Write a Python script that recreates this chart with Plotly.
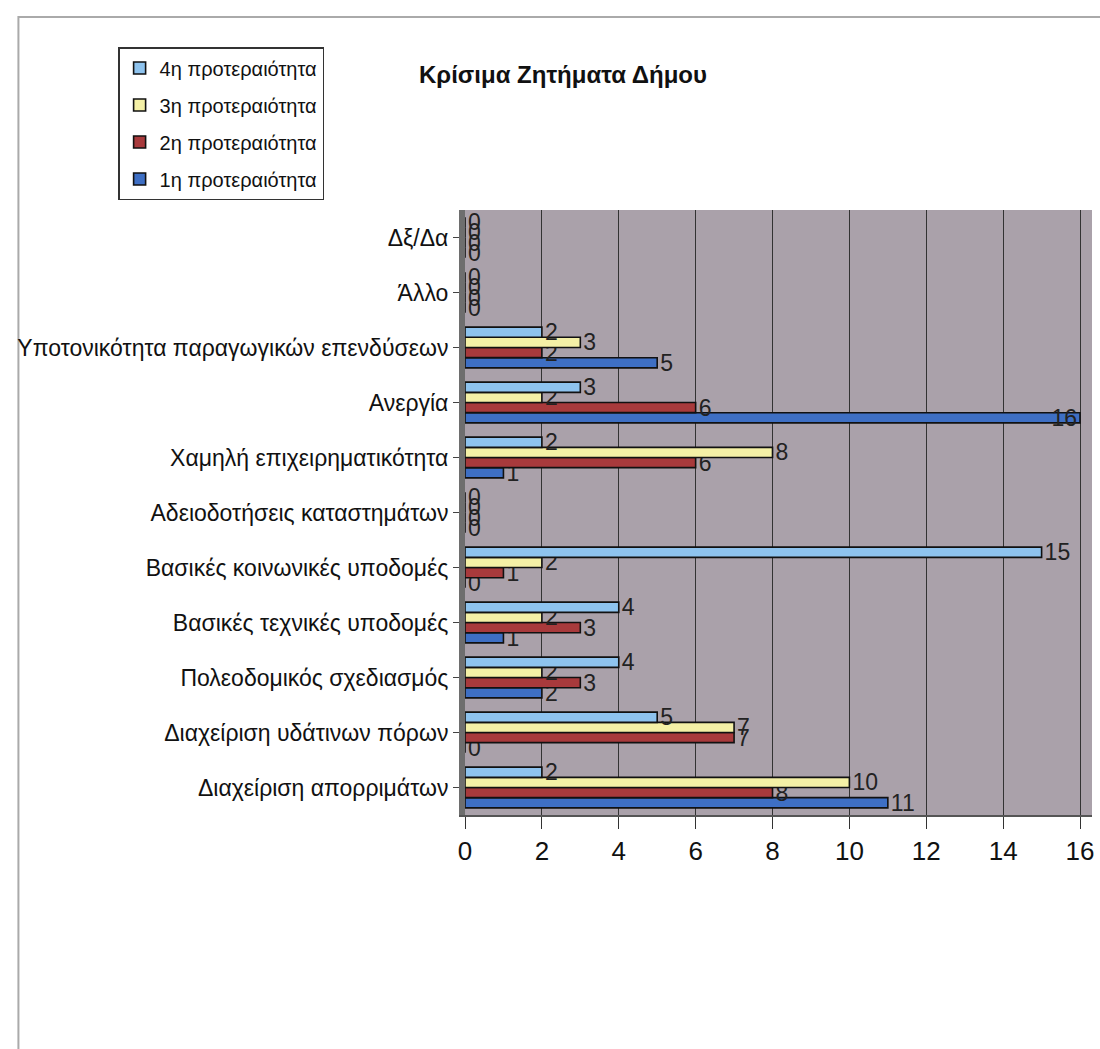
import plotly.graph_objects as go

categories = [
    "Διαχείριση απορριμάτων",
    "Διαχείριση υδάτινων πόρων",
    "Πολεοδομικός σχεδιασμός",
    "Βασικές τεχνικές υποδομές",
    "Βασικές κοινωνικές υποδομές",
    "Αδειοδοτήσεις καταστημάτων",
    "Χαμηλή επιχειρηματικότητα",
    "Ανεργία",
    "Υποτονικότητα παραγωγικών επενδύσεων",
    "Άλλο",
    "Δξ/Δα",
]
p1 = [11, 0, 2, 1, 0, 0, 1, 16, 5, 0, 0]
p2 = [8, 7, 3, 3, 1, 0, 6, 6, 2, 0, 0]
p3 = [10, 7, 2, 2, 2, 0, 8, 2, 3, 0, 0]
p4 = [2, 5, 4, 4, 15, 0, 2, 3, 2, 0, 0]
x_ticks = [0, 2, 4, 6, 8, 10, 12, 14, 16]
x_max = 16

series = [
    ("1η προτεραιότητα", p1, "#3E6FC4", 4),
    ("2η προτεραιότητα", p2, "#A83A3C", 3),
    ("3η προτεραιότητα", p3, "#F4F0A6", 2),
    ("4η προτεραιότητα", p4, "#8EC3EE", 1),
]

W, H = 1100, 1049
L, R, T, B = 465, 6, 210, 234
PW, PH = W - L - R, H - T - B
UNIT = (1082 - 465) / 16.0
x_hi = PW / UNIT

def px(xp):
    return (xp - L) / PW

def py(yp):
    return 1 + (T - yp) / PH

fig = go.Figure()
for name, vals, color, rank in series:
    fig.add_trace(go.Bar(
        y=categories, x=vals, name=name, orientation="h",
        legendrank=rank, legendgroup=name,
        marker=dict(color=color, line=dict(color="#111111", width=1.6)),
        text=[str(v) for v in vals],
        textposition=["inside" if v >= x_max else "outside" for v in vals],
        insidetextanchor="end", textangle=0,
        constraintext="none", cliponaxis=False,
        textfont=dict(size=23, color="#222222", family="Liberation Sans"),
    ))

fig.update_layout(
    width=W, height=H,
    margin=dict(l=L, r=R, t=T, b=B),
    paper_bgcolor="white", plot_bgcolor="#AAA1AA",
    barmode="group", bargap=0.26, bargroupgap=0.0,
    font=dict(family="Liberation Sans", color="#111111"),
    title=dict(text="<b>Κρίσιμα Ζητήματα Δήμου</b>", x=563 / W, xanchor="center",
               y=1 - 75 / H, yanchor="middle", font=dict(size=24, color="#111111")),
    legend=dict(traceorder="grouped", x=px(117), xanchor="left", y=py(47), yanchor="top",
                bgcolor="white", bordercolor="#333333", borderwidth=1.5,
                font=dict(size=20), tracegroupgap=8, itemwidth=30),
    xaxis=dict(range=[0, x_hi], tickvals=x_ticks,
               showgrid=True, gridcolor="#333333", gridwidth=1,
               ticks="outside", ticklen=12, tickcolor="#333333",
               tickfont=dict(size=26), zeroline=False, showline=True,
               linecolor="#555555", linewidth=2, mirror=False),
    yaxis=dict(showgrid=False, tickfont=dict(size=23), ticks="outside", ticklen=6,
               tickcolor="#444444", showline=True, linecolor="#6E6E6E", linewidth=6,
               automargin=False),
    shapes=[dict(type="rect", xref="paper", yref="paper",
                 x0=px(17), x1=1.2, y0=-0.6, y1=py(17),
                 line=dict(color="#AAAAAA", width=2), fillcolor="rgba(0,0,0,0)", layer="below")],
)

fig.write_html("out.html", config={"displayModeBar": False},
               post_script="document.body.style.margin='0';document.body.style.overflow='hidden';")
